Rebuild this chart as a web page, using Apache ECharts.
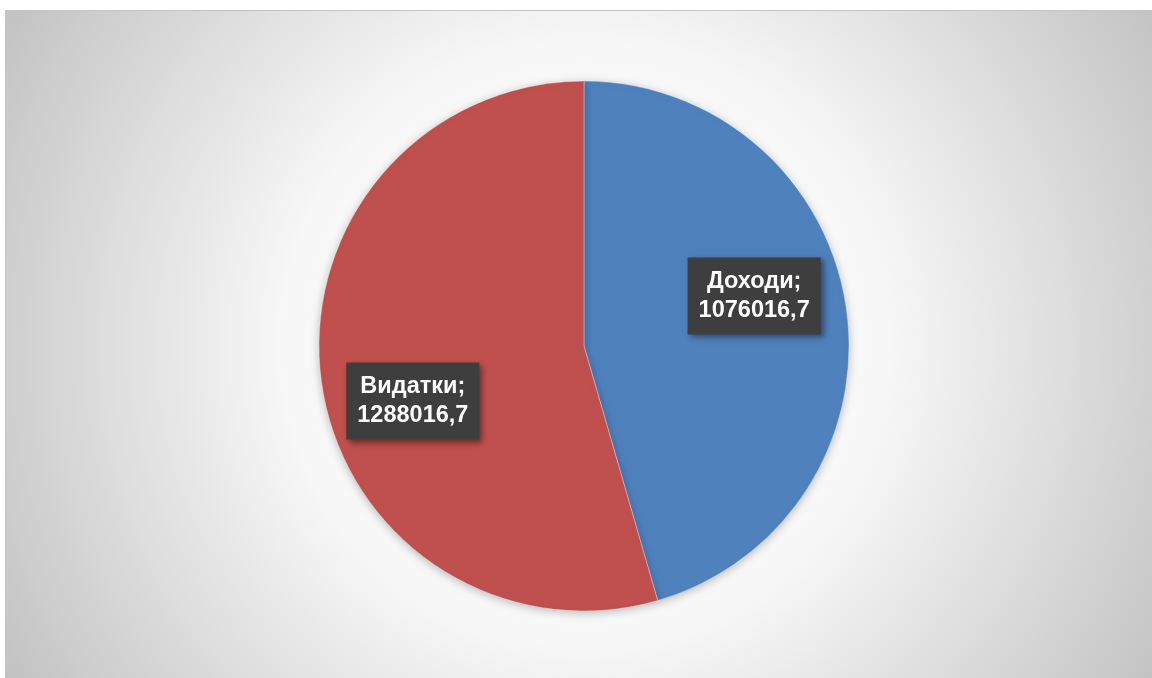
<!DOCTYPE html>
<html>
<head>
<meta charset="utf-8">
<script src="https://cdn.jsdelivr.net/npm/echarts@6/dist/echarts.min.js"></script>
<style>html,body{margin:0;padding:0;background:#fff;}#c{width:1152px;height:678px;}</style>
</head>
<body>
<div id="c"></div>
<script>
const categories = ['Доходи', 'Видатки'];
const values = [1076016.7, 1288016.7];
const colors = ['#4F81BD', '#C0504D'];
const labelOffsets = [[36, -31], [-37, 36]];

function fmt(v) { return String(v).replace('.', ','); }

const chart = echarts.init(document.getElementById('c'), null, {renderer: 'canvas'});
chart.setOption({
  animation: false,
  graphic: [{
    type: 'rect',
    left: 5, top: 10,
    shape: {width: 1147, height: 668},
    style: {
      fill: {
        type: 'radial', x: 0.505, y: 0.5, r: 1,
        colorStops: [
          {offset: 0, color: '#ffffff'},
          {offset: 0.45, color: '#f7f7f7'},
          {offset: 1, color: '#c2c2c2'}
        ]
      },
      stroke: '#c4c4c4', lineWidth: 1
    },
    z: -10
  }],
  series: [{
    type: 'pie',
    center: [584, 346],
    radius: [0, 265],
    startAngle: 90,
    clockwise: true,
    data: categories.map((c, i) => ({
      name: c,
      value: values[i],
      itemStyle: {color: colors[i]},
      label: {offset: labelOffsets[i]}
    })),
    itemStyle: {
      borderColor: 'rgba(255,255,255,0.35)',
      borderWidth: 1,
      shadowBlur: 8,
      shadowColor: 'rgba(0,0,0,0.25)',
      shadowOffsetY: 2
    },
    label: {
      show: true,
      position: 'inside',
      formatter: p => p.name + ';\n' + fmt(p.value),
      color: '#ffffff',
      fontFamily: 'Liberation Sans',
      fontWeight: 'bold',
      fontSize: 23.5,
      lineHeight: 29,
      align: 'center',
      backgroundColor: '#3e3e3e',
      padding: [10, 11, 9, 11],
      shadowBlur: 6,
      shadowColor: 'rgba(0,0,0,0.45)',
      shadowOffsetX: 3,
      shadowOffsetY: 3
    },
    labelLine: {show: false},
    emphasis: {disabled: true}
  }]
});
</script>
</body>
</html>
